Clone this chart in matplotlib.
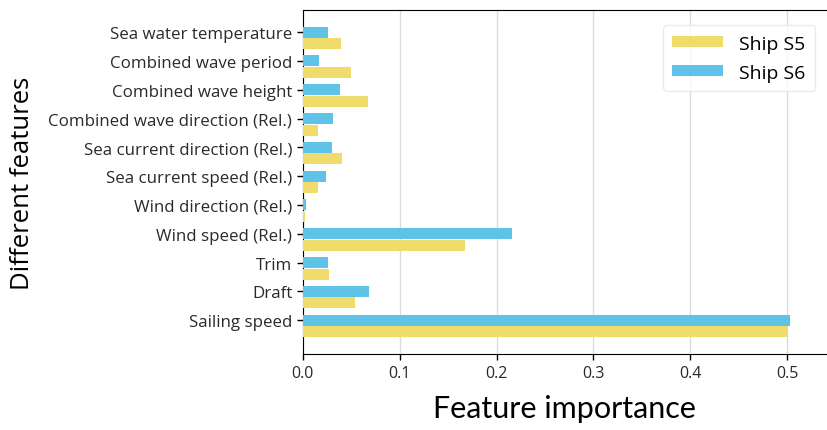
import matplotlib
matplotlib.use("Agg")
import matplotlib.pyplot as plt
import numpy as np

features = [
    "Sailing speed",
    "Draft",
    "Trim",
    "Wind speed (Rel.)",
    "Wind direction (Rel.)",
    "Sea current speed (Rel.)",
    "Sea current direction (Rel.)",
    "Combined wave direction (Rel.)",
    "Combined wave height",
    "Combined wave period",
    "Sea water temperature",
]
ship_s5 = [0.501, 0.054, 0.027, 0.167, 0.002, 0.016, 0.041, 0.016, 0.067, 0.050, 0.040]
ship_s6 = [0.503, 0.068, 0.026, 0.216, 0.003, 0.024, 0.030, 0.031, 0.038, 0.017, 0.026]
xticks = [0.0, 0.1, 0.2, 0.3, 0.4, 0.5]

color_s5 = "#f0dc6a"
color_s6 = "#5ec3e6"

fig = plt.figure(figsize=(8.27, 4.31), dpi=100)
ax = fig.add_axes([0.366, 0.176, 0.634, 0.798])

y = np.arange(len(features))
h = 0.38
ax.barh(y - 0.4, ship_s5, height=h, color=color_s5, label="Ship S5", zorder=3)
ax.barh(y, ship_s6, height=h, color=color_s6, label="Ship S6", zorder=3)

ax.set_yticks(y)
ax.set_yticklabels(features, fontsize=12.2, family="Open Sans", color="#2a2a2a")
ax.set_xticks(xticks)
ax.set_xticklabels([f"{v:.1f}" for v in xticks], fontsize=11.5, family="Open Sans", color="#2a2a2a")
ax.set_xlim(0, 0.541)
ax.set_ylim(-1.18, 10.76)

ax.grid(axis="x", color="#dcdcdc", linewidth=1.0, zorder=0)
ax.spines["right"].set_visible(False)
ax.tick_params(axis="both", length=4, width=1)

ax.set_xlabel("Feature importance", fontsize=22, family="Lato", labelpad=10)
ax.set_ylabel("Different features", fontsize=18.5, family="Open Sans", labelpad=10)

leg = ax.legend(loc="upper right", prop={"family": "Open Sans", "size": 14},
                frameon=True, handlelength=2.6, handleheight=0.5, borderpad=0.5,
                labelspacing=0.55, bbox_to_anchor=(0.995, 0.985))
leg.get_frame().set_edgecolor("#e6e6e6")

fig.savefig("out.png", dpi=100)
